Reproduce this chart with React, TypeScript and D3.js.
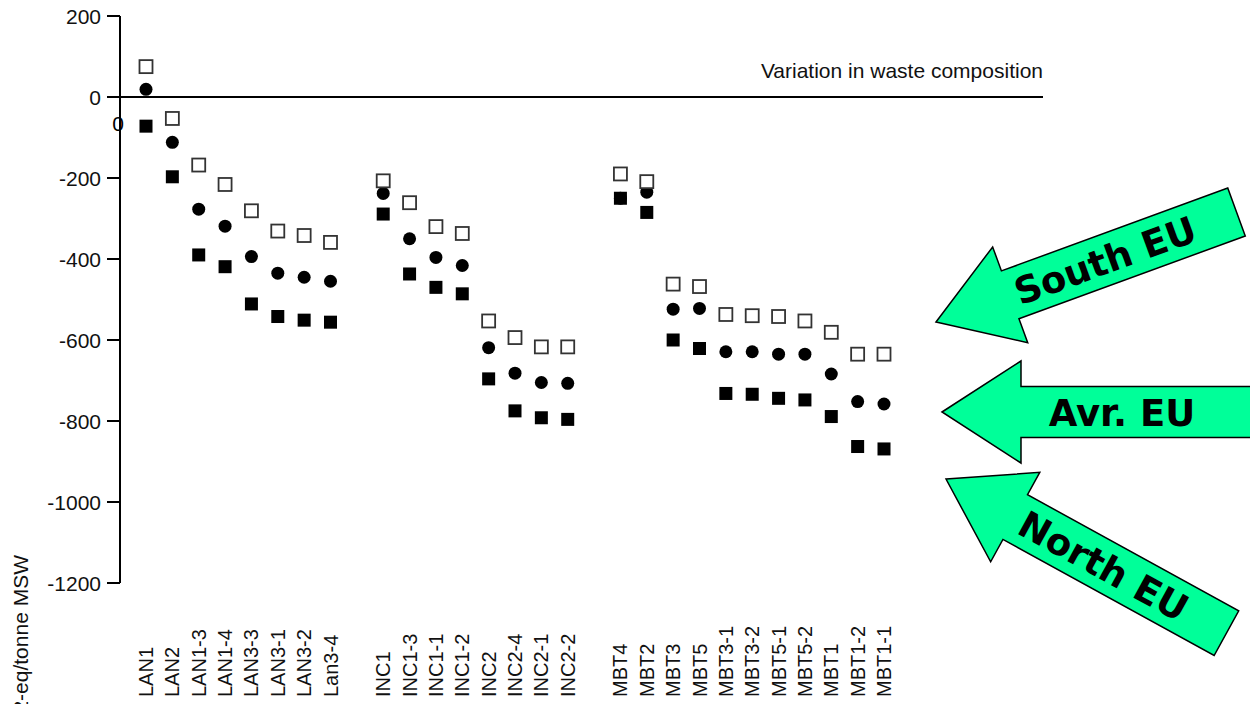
import React from 'react';
import * as d3 from 'd3';

// scenario labels, with blank slots between the three groups
const lanLabels = ['LAN1', 'LAN2', 'LAN1-3', 'LAN1-4', 'LAN3-3', 'LAN3-1', 'LAN3-2', 'Lan3-4'];
const incLabels = ['INC1', 'INC1-3', 'INC1-1', 'INC1-2', 'INC2', 'INC2-4', 'INC2-1', 'INC2-2'];
const mbtLabels = ['MBT4', 'MBT2', 'MBT3', 'MBT5', 'MBT3-1', 'MBT3-2', 'MBT5-1', 'MBT5-2', 'MBT1', 'MBT1-2', 'MBT1-1'];
const slots = [...lanLabels, '_gap1', ...incLabels, '_gap2', ...mbtLabels];
const categories = [...lanLabels, ...incLabels, ...mbtLabels];

// South EU (open squares)
const southEU = [
  75, -53, -168, -216, -281, -331, -342, -359,
  -207, -261, -320, -337, -553, -594, -617, -617,
  -190, -209, -462, -468, -537, -540, -542, -553, -581, -635, -635,
];
// Average EU (dots)
const avrEU = [
  19, -112, -277, -319, -394, -435, -445, -455,
  -238, -350, -396, -416, -619, -682, -705, -707,
  -250, -235, -524, -522, -629, -629, -635, -635, -684, -752, -758,
];
// North EU (filled squares)
const northEU = [
  -72, -197, -390, -419, -511, -542, -551, -556,
  -289, -437, -470, -486, -696, -775, -792, -796,
  -250, -285, -600, -621, -732, -734, -744, -748, -789, -863, -869,
];

const yTicks = [200, 0, -200, -400, -600, -800, -1000, -1200];

// annotation arrows: tip point, direction of the shaft (deg), label
const arrows = [
  { label: 'South EU', tip: [936, 322], angle: -20.1 },
  { label: 'Avr. EU', tip: [942, 412], angle: 0 },
  { label: 'North EU', tip: [946, 479], angle: 28.8 },
];

const W = 1250;
const H = 704;
const font = '"Liberation Sans", Arial, sans-serif';

const x = d3.scalePoint<string>().domain(slots).range([146, 884]);
const y = d3.scaleLinear().domain([-1200, 200]).range([583, 16]);

const headLen = 79;
const headHalf = 51;
const shaftHalf = 25.5;
const arrowLen = 320;
const arrowPath = d3.line()([
  [0, 0],
  [headLen, -headHalf],
  [headLen, -shaftHalf],
  [arrowLen, -shaftHalf],
  [arrowLen, shaftHalf],
  [headLen, shaftHalf],
  [headLen, headHalf],
]) + 'Z';

const App = () => {
  const sq = 13;
  return (
    <svg width={W} height={H} style={{ position: 'fixed', left: 0, top: 0, background: '#fff' }}>
      {/* stray label from the source figure */}
      <text x={118} y={123} fontFamily={font} fontSize={21} textAnchor="middle" dominantBaseline="central">0</text>

      {/* y axis */}
      <line x1={120} x2={120} y1={y(200)} y2={y(-1200)} stroke="#000" strokeWidth={2} />
      {yTicks.map(t => (
        <g key={t}>
          <line x1={107} x2={120} y1={y(t)} y2={y(t)} stroke="#000" strokeWidth={2} />
          <text x={101} y={y(t)} fontFamily={font} fontSize={21} textAnchor="end" dominantBaseline="central" fill="#111">{t}</text>
        </g>
      ))}
      <text transform={`translate(28,555) rotate(-90)`} fontFamily={font} fontSize={21} textAnchor="end" fill="#111">
        kg CO2-eq/tonne MSW
      </text>

      {/* zero line */}
      <line x1={120} x2={1043} y1={y(0)} y2={y(0)} stroke="#000" strokeWidth={2} />
      <text x={1043} y={78} fontFamily={font} fontSize={21} textAnchor="end" fill="#111">Variation in waste composition</text>

      {/* markers */}
      {categories.map((c, i) => (
        <rect key={'n' + c} x={x(c)! - sq / 2} y={y(northEU[i]) - sq / 2} width={sq} height={sq} fill="#000" />
      ))}
      {categories.map((c, i) => (
        <circle key={'a' + c} cx={x(c)!} cy={y(avrEU[i])} r={6.5} fill="#000" />
      ))}
      {categories.map((c, i) => (
        <rect key={'s' + c} x={x(c)! - 6.5} y={y(southEU[i]) - 6.5} width={13} height={13} fill="#fff" stroke="#333" strokeWidth={1.8} />
      ))}

      {/* category labels */}
      {categories.map(c => (
        <text key={'l' + c} transform={`translate(${x(c)! + 7},697) rotate(-90)`} fontFamily={font} fontSize={20} fill="#111">
          {c}
        </text>
      ))}

      {/* arrows */}
      {arrows.map(a => (
        <g key={a.label} transform={`translate(${a.tip[0]},${a.tip[1]}) rotate(${a.angle})`}>
          <path d={arrowPath} fill="#00ff99" stroke="#000" strokeWidth={1.5} strokeLinejoin="miter" />
          <text x={180} y={1} fontFamily='"DejaVu Sans", sans-serif' fontWeight="bold" fontSize={37}
            textAnchor="middle" dominantBaseline="central" fill="#000">{a.label}</text>
        </g>
      ))}
    </svg>
  );
};

export default App;
